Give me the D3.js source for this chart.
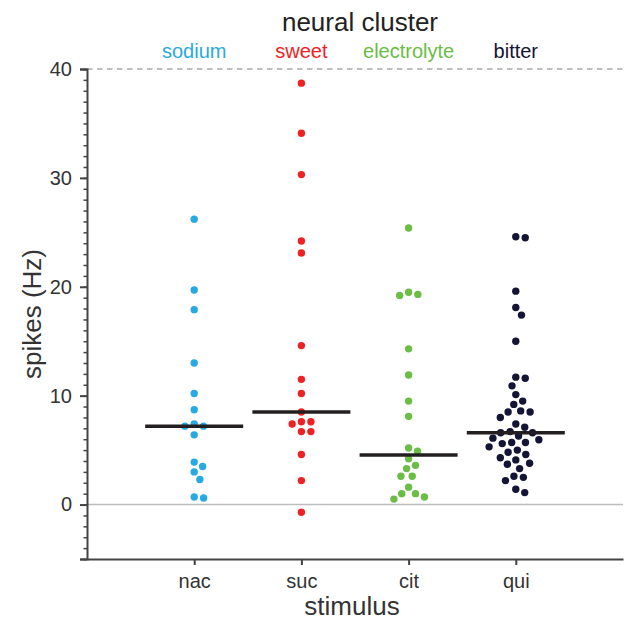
<!DOCTYPE html>
<html>
<head>
<meta charset="utf-8">
<script src="https://cdn.jsdelivr.net/npm/d3@7"></script>
<style>
  body { margin: 0; background: #fff; }
  svg { display: block; font-family: "Liberation Sans", Arial, sans-serif; }
</style>
</head>
<body>
<div id="chart-area"></div>
<script>
// Data
const stimuli = ['nac', 'suc', 'cit', 'qui']
const clusters = ['sodium', 'sweet', 'electrolyte', 'bitter']
const colors = ['#29a9e1', '#ed2224', '#6abd45', '#141434']

const nac = [26.2, 19.7, 17.9, 13.0, 10.2, 8.7, 7.4, 7.2, 7.2, 6.4, 3.9, 3.5, 3.0, 2.3, 0.7, 0.6]
const suc = [38.7, 34.1, 30.3, 24.2, 23.1, 14.6, 11.5, 10.2, 8.5, 7.6, 7.6, 7.4, 6.7, 6.7, 4.6, 2.2, -0.7]
const cit = [25.4, 19.5, 19.3, 19.2, 14.3, 11.9, 9.5, 8.1, 5.2, 4.9, 4.2, 3.6, 3.3, 2.6, 2.6, 1.6, 1.0, 1.0, 0.7, 0.5]
const qui = [24.6, 24.5, 19.6, 18.1, 17.4, 15.0, 11.7, 11.6, 10.9, 10.1, 9.5, 9.2, 8.6, 8.5, 8.5, 8.0, 7.4, 7.1,
	6.7, 6.6, 6.6, 6.3, 6.1, 5.95, 5.7, 5.7, 5.6, 5.3, 5.0, 4.8, 4.6, 4.3, 4.1, 3.8, 3.7, 3.3, 2.6, 2.5, 2.2, 1.4, 1.1]
const groups = [nac, suc, cit, qui]

const yTicks = [-5, 0, 10, 20, 30, 40]

const canvas = { width: 624, height: 623 }
const margin = { left: 87, right: 1, top: 69, bottom: 64 }
const plot = {
	width: canvas.width - margin.left - margin.right,
	height: canvas.height - margin.top - margin.bottom
}

let svg = d3.select('#chart-area')
	.append('svg')
		.attr('width', canvas.width)
		.attr('height', canvas.height)
let g = svg.append('g')
	.attr('transform', `translate(${margin.left}, ${margin.top})`)

// Scales
let x = d3.scaleLinear()
	.domain([0, stimuli.length + 1])
	.range([0, plot.width])
let y = d3.scaleLinear()
	.domain([-5, 40])
	.range([plot.height, 0])

// Reference lines at 0 and 40
g.append('line')
	.attr('x1', 0).attr('x2', plot.width)
	.attr('y1', y(0)).attr('y2', y(0))
	.attr('stroke', '#bdbdbd')
	.attr('stroke-width', 1.5)
g.append('line')
	.attr('x1', 0).attr('x2', plot.width)
	.attr('y1', y(40)).attr('y2', y(40))
	.attr('stroke', '#aaa')
	.attr('stroke-width', 1.5)
	.attr('stroke-dasharray', '5.5,4.5')

// Axes
const axisColor = '#444'
let yMinor = d3.axisLeft(y)
	.tickValues(d3.range(-5, 41, 1))
	.tickSize(3.5)
	.tickFormat('')
g.append('g')
	.attr('class', 'y-minor')
	.call(yMinor)
let yAxis = d3.axisLeft(y)
	.tickValues(yTicks)
	.tickSize(7)
	.tickPadding(8)
	.tickFormat(d => d < 0 ? '' : d)
g.append('g')
	.attr('class', 'y-axis')
	.call(yAxis)

let xAxis = d3.axisBottom(x)
	.tickValues(d3.range(1, stimuli.length + 1))
	.tickSize(6)
	.tickSizeOuter(0)
	.tickPadding(9)
	.tickFormat(d => stimuli[d - 1])
g.append('g')
	.attr('class', 'x-axis')
	.attr('transform', `translate(0, ${plot.height})`)
	.call(xAxis)

g.selectAll('.y-minor path').remove()
g.selectAll('.domain, .tick line')
	.attr('stroke', axisColor)
	.attr('stroke-width', 2)
g.selectAll('.y-minor .tick line').attr('stroke-width', 1.5)
g.selectAll('.tick text')
	.attr('fill', '#333')
	.style('font-size', '20px')

// Labels
g.append('text')
	.attr('x', plot.width / 2 - 3)
	.attr('y', plot.height + 56)
	.attr('text-anchor', 'middle')
	.attr('fill', '#333')
	.style('font-size', '26px')
	.text('stimulus')
svg.append('text')
	.attr('transform', `translate(41, ${margin.top + plot.height / 2}) rotate(-90)`)
	.attr('text-anchor', 'middle')
	.attr('fill', '#333')
	.style('font-size', '26px')
	.text('spikes (Hz)')
svg.append('text')
	.attr('x', 360)
	.attr('y', 31)
	.attr('text-anchor', 'middle')
	.attr('fill', '#222')
	.style('font-size', '26px')
	.text('neural cluster')

// Legend: cluster names above each column
clusters.forEach((c, i) => {
	svg.append('text')
		.attr('x', margin.left + x(i + 1))
		.attr('y', 58)
		.attr('text-anchor', 'middle')
		.attr('fill', colors[i])
		.style('font-size', '20px')
		.text(c)
})

// Beeswarm offsets: place each point as close to the centre as possible without overlap
const gap = 9.5
function swarm(values) {
	let pts = values.map(v => ({ v, py: y(v) })).sort((a, b) => a.py - b.py)
	let placed = []
	pts.forEach(p => {
		let near = placed.filter(q => Math.abs(q.py - p.py) < gap)
		let cands = [0]
		near.forEach(q => {
			let dx = Math.sqrt(gap * gap - (q.py - p.py) ** 2)
			cands.push(q.dx + dx, q.dx - dx)
		})
		cands.sort((a, b) => Math.abs(a) - Math.abs(b))
		p.dx = cands.find(c => near.every(q => (q.dx - c) ** 2 + (q.py - p.py) ** 2 >= gap * gap - 0.01))
		placed.push(p)
	})
	return pts
}

groups.forEach((vals, i) => {
	let col = g.append('g')
		.attr('transform', `translate(${x(i + 1)}, 0)`)

	col.selectAll('circle')
		.data(swarm(vals))
		.enter()
		.append('circle')
			.attr('cx', d => d.dx)
			.attr('cy', d => d.py)
			.attr('r', 3.7)
			.attr('fill', colors[i])

	// median bar
	let med = d3.median(vals)
	col.append('line')
		.attr('x1', -49).attr('x2', 49)
		.attr('y1', y(med)).attr('y2', y(med))
		.attr('stroke', '#231f20')
		.attr('stroke-width', 3.5)
})
</script>
</body>
</html>
